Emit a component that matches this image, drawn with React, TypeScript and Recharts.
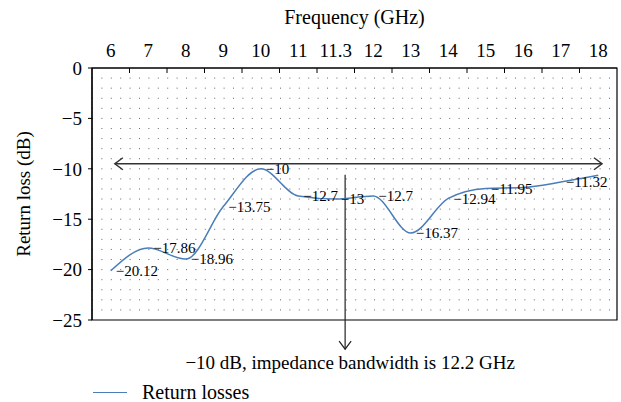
import {
  LineChart,
  Line,
  XAxis,
  YAxis,
  CartesianGrid,
  ReferenceLine,
  ReferenceArea,
  LabelList,
  Legend,
} from 'recharts';

const frequencies = ['6', '7', '8', '9', '10', '11', '11.3', '12', '13', '14', '15', '16', '17', '18'];
const returnLoss = [-20.12, -17.86, -18.96, -13.75, -10, -12.7, -13, -12.7, -16.37, -12.94, -11.95, -11.85, -11.32, -10.65];
const labelShown = [true, true, true, true, true, true, true, true, true, true, true, false, true, false];
const yTicks = [0, -5, -10, -15, -20, -25];

const minus = (v: number | string) => String(v).replace('-', '\u2212');

const data = frequencies.map((f, i) => ({
  idx: i,
  freq: f,
  loss: returnLoss[i],
  label: labelShown[i] ? minus(returnLoss[i]) : null,
}));

const xDomain = [-0.5, frequencies.length - 0.5];
const xTicks = frequencies.map((_, i) => i);

const FONT = 'Liberation Serif, DejaVu Serif, serif';
const LINE_COLOR = '#4a7ebb';

function HArrow(props: any) {
  const { x1, y1, x2, y2 } = props;
  return (
    <g stroke="#333" strokeWidth={1.5} fill="none">
      <line x1={x1} y1={y1} x2={x2} y2={y2} />
      <polyline points={`${x1 + 8},${y1 - 6} ${x1},${y1} ${x1 + 8},${y1 + 6}`} />
      <polyline points={`${x2 - 8},${y2 - 6} ${x2},${y2} ${x2 - 8},${y2 + 6}`} />
    </g>
  );
}

function VArrow(props: any) {
  const { x1, y1, x2, y2 } = props;
  return (
    <g>
      <g stroke="#222" strokeWidth={1.2} fill="none">
        <line x1={x1} y1={y1} x2={x2} y2={y2} />
        <polyline points={`${x2 - 6},${y2 - 8} ${x2},${y2} ${x2 + 6},${y2 - 8}`} />
      </g>
      <text x={x2 + 5} y={y2 + 20} textAnchor="middle" fontSize={19} fill="#000" style={{ fontFamily: FONT }}>
        {'\u221210 dB, impedance bandwidth is 12.2 GHz'}
      </text>
    </g>
  );
}

function App() {
  const gridRows = (offset: any) =>
    Array.from({ length: 24 }, (_, i) => offset.top + ((i + 1) * offset.height) / 25);
  // tick marks between categories along the top edge
  const boundaryCols = (offset: any) =>
    frequencies.slice(1).map((_, i) => offset.left + ((i + 1) * offset.width) / frequencies.length);

  return (
    <div style={{ position: 'absolute', left: 0, top: 0, fontFamily: FONT }}>
      <style>{`.recharts-wrapper text { font-family: ${FONT}; }`}</style>
      <LineChart width={621} height={402} data={data} margin={{ top: 0, right: 4, bottom: 62, left: 22 }}>
        <CartesianGrid
          vertical={false}
          stroke="#666"
          strokeDasharray="1 8.4"
          horizontalCoordinatesGenerator={({ offset }: any) => gridRows(offset)}
        />
        <CartesianGrid
          horizontal={false}
          stroke="#000"
          strokeDasharray="5 1000"
          verticalCoordinatesGenerator={({ offset }: any) => boundaryCols(offset)}
        />
        <XAxis
          dataKey="idx"
          type="number"
          orientation="top"
          domain={xDomain}
          allowDataOverflow
          ticks={xTicks}
          interval={0}
          tickFormatter={(i) => frequencies[i]}
          height={68}
          tickSize={0}
          tickMargin={11}
          tick={{ fontSize: 19, fill: '#000' }}
          axisLine={{ stroke: '#000', strokeWidth: 1.2 }}
          label={{ value: 'Frequency (GHz)', position: 'insideTop', offset: 10, fontSize: 20, fill: '#000' }}
        />
        <YAxis
          domain={[-25, 0]}
          allowDataOverflow
          ticks={yTicks}
          interval={0}
          width={70}
          tickSize={4}
          tickMargin={6}
          tickFormatter={minus}
          tick={{ fontSize: 19, fill: '#000' }}
          tickLine={{ stroke: '#000' }}
          axisLine={{ stroke: '#000', strokeWidth: 1.2 }}
          label={{ value: 'Return loss (dB)', angle: -90, position: 'center', dx: -34, fontSize: 19, fill: '#000' }}
        />
        <ReferenceArea
          x1={xDomain[0]}
          x2={xDomain[1]}
          y1={-25}
          y2={0}
          fill="none"
          stroke="#000"
          strokeWidth={1.2}
          ifOverflow="visible"
        />
        <ReferenceLine
          segment={[{ x: 0.11, y: -9.5 }, { x: 13.1, y: -9.5 }]}
          ifOverflow="visible"
          shape={HArrow}
        />
        <ReferenceLine
          segment={[{ x: 6.25, y: -10.6 }, { x: 6.25, y: -27.9 }]}
          ifOverflow="visible"
          shape={VArrow}
        />
        <Line
          type="monotone"
          dataKey="loss"
          name="Return losses"
          stroke={LINE_COLOR}
          strokeWidth={1.5}
          dot={false}
          isAnimationActive={false}
        >
          <LabelList dataKey="label" position="right" offset={5} fontSize={15} fill="#000" />
        </Line>
        <Legend
          verticalAlign="bottom"
          align="left"
          wrapperStyle={{ left: 0, bottom: 0, width: 621 }}
          content={({ payload }: any) => (
            <div style={{ height: 20, display: 'flex', alignItems: 'center', paddingLeft: 93, fontSize: 20 }}>
              {(payload || []).map((p: any) => (
                <span key={p.value} style={{ display: 'flex', alignItems: 'center' }}>
                  <span style={{ display: 'inline-block', width: 34, height: 0, borderTop: `1.5px solid ${p.color}` }} />
                  <span style={{ marginLeft: 15 }}>{p.value}</span>
                </span>
              ))}
            </div>
          )}
        />
      </LineChart>
    </div>
  );
}

export default App;
